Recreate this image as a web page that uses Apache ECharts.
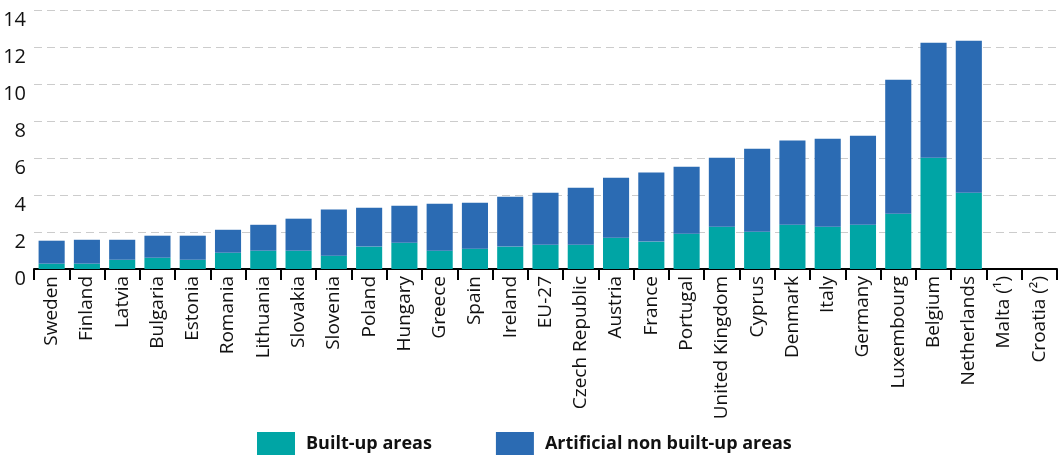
<!DOCTYPE html>
<html>
<head>
<meta charset="utf-8">
<script src="https://cdn.jsdelivr.net/npm/echarts@6/dist/echarts.min.js"></script>
<style>
  html, body { margin: 0; padding: 0; background: #ffffff; }
  #chart { width: 1059px; height: 455px; }
</style>
</head>
<body>
<div id="chart"></div>
<script>
// Land cover shares, in percent of total area
const countries = [
  'Sweden', 'Finland', 'Latvia', 'Bulgaria', 'Estonia', 'Romania', 'Lithuania',
  'Slovakia', 'Slovenia', 'Poland', 'Hungary', 'Greece', 'Spain', 'Ireland',
  'EU-27', 'Czech Republic', 'Austria', 'France', 'Portugal', 'United Kingdom',
  'Cyprus', 'Denmark', 'Italy', 'Germany', 'Luxembourg', 'Belgium', 'Netherlands',
  'Malta (\u00b9)', 'Croatia (\u00b2)'
];
const builtUp = [
  0.29, 0.29, 0.50, 0.61, 0.50, 0.88, 0.99,
  0.99, 0.72, 1.21, 1.42, 0.99, 1.10, 1.21,
  1.31, 1.31, 1.69, 1.48, 1.91, 2.29,
  2.02, 2.39, 2.29, 2.39, 2.99, 6.02, 4.12,
  null, null
];
const nonBuiltUp = [
  1.24, 1.29, 1.08, 1.19, 1.30, 1.24, 1.40,
  1.73, 2.49, 2.10, 2.00, 2.54, 2.48, 2.70,
  2.81, 3.08, 3.24, 3.73, 3.62, 3.73,
  4.48, 4.55, 4.75, 4.81, 7.24, 6.21, 8.22,
  null, null
];
const yTicks = { min: 0, max: 14, interval: 2 };

const font = '"Open Sans", "Noto Sans", sans-serif';
const chart = echarts.init(document.getElementById('chart'), null, { renderer: 'canvas' });

chart.setOption({
  animation: false,
  textStyle: { fontFamily: font },
  grid: { left: 34, right: 2, top: 10, bottom: 186, containLabel: false },
  legend: {
    bottom: -6,
    left: 252,
    itemWidth: 38,
    itemHeight: 24,
    itemGap: 64,
    icon: 'rect',
    textStyle: {
      fontFamily: font, fontSize: 18, fontWeight: 'bold', color: '#111',
      padding: [0, 0, 0, 6]
    },
    data: ['Built-up areas', 'Artificial non built-up areas']
  },
  xAxis: {
    type: 'category',
    data: countries,
    boundaryGap: true,
    axisLine: { lineStyle: { color: '#000', width: 2 } },
    axisTick: { show: true, interval: 0, length: 11, lineStyle: { color: '#000', width: 2 } },
    axisLabel: {
      interval: 0, rotate: 90, margin: 7, fontSize: 19, color: '#111', fontFamily: font
    }
  },
  yAxis: {
    type: 'value',
    min: yTicks.min,
    max: yTicks.max,
    interval: yTicks.interval,
    axisLine: { show: false },
    axisTick: { show: false },
    axisLabel: {
      fontSize: 20, color: '#111', margin: 8, fontFamily: font,
      verticalAlign: 'top'
    },
    splitLine: { lineStyle: { color: '#cccccc', type: [8, 5], width: 1 } }
  },
  series: [
    {
      name: 'Built-up areas',
      type: 'bar',
      stack: 'area',
      data: builtUp,
      barCategoryGap: '26%',
      itemStyle: { color: '#00a5a5' }
    },
    {
      name: 'Artificial non built-up areas',
      type: 'bar',
      stack: 'area',
      data: nonBuiltUp,
      barCategoryGap: '26%',
      itemStyle: { color: '#2b6bb3' }
    }
  ]
});
</script>
</body>
</html>
